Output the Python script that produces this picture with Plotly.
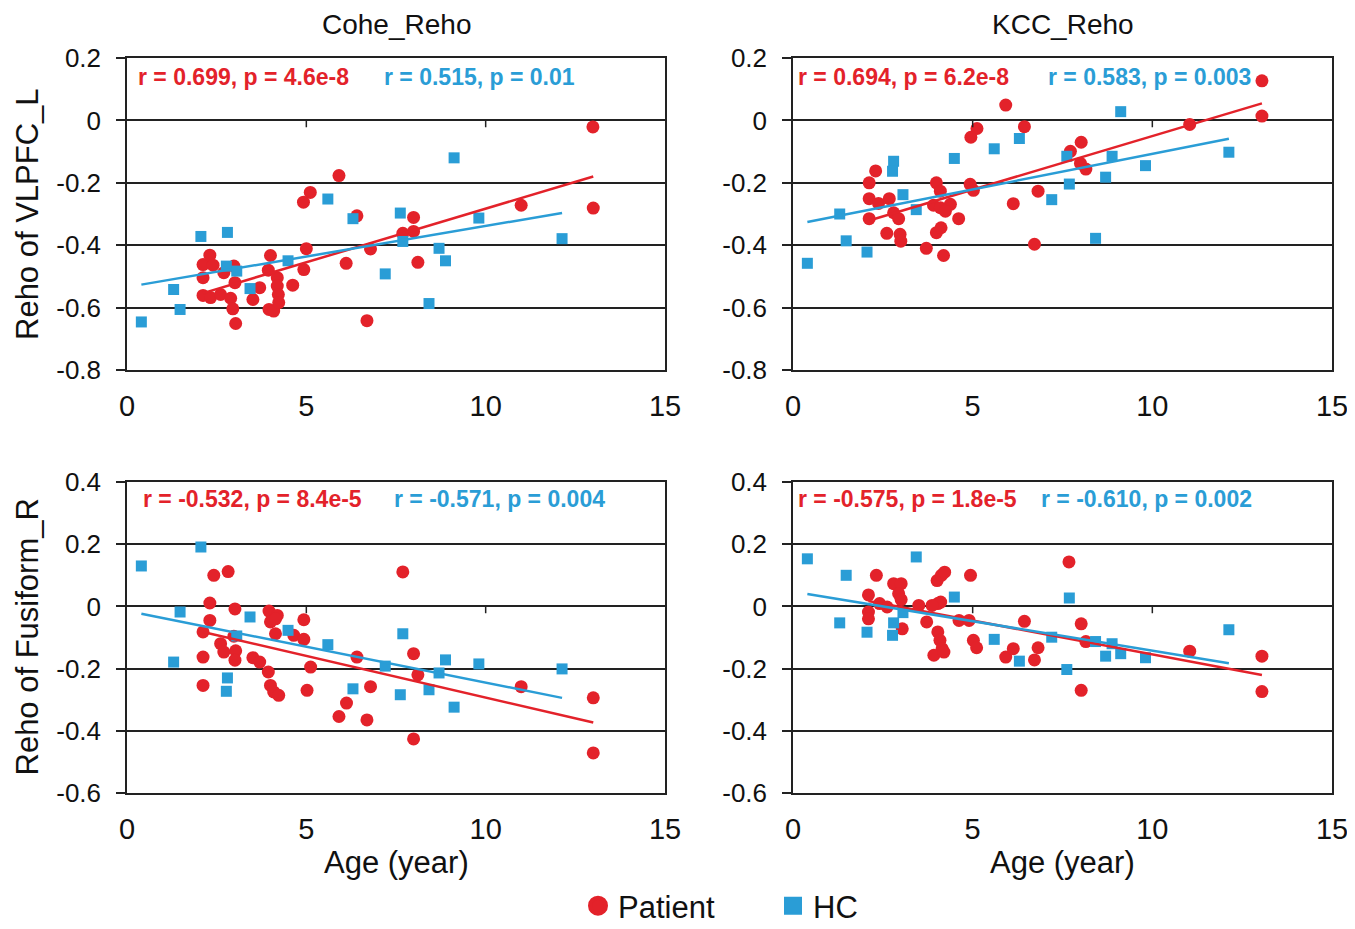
import numpy as np
import plotly.graph_objects as go

RED = '#E3222A'
BLUE = '#2A9DD6'
FONT = 'Liberation Sans, Arial, sans-serif'

panel_titles = ['Cohe_Reho', 'KCC_Reho']
row_titles = ['Reho of VLPFC_L', 'Reho of Fusiform_R']
x_title = 'Age (year)'
x_ticks = [0, 5, 10, 15]
x_tick_text = ['0', '5', '10', '15']
y_ticks_top = [-0.8, -0.6, -0.4, -0.2, 0, 0.2]
y_tick_text_top = ['-0.8', '-0.6', '-0.4', '-0.2', '0', '0.2']
y_ticks_bot = [-0.6, -0.4, -0.2, 0, 0.2, 0.4]
y_tick_text_bot = ['-0.6', '-0.4', '-0.2', '0', '0.2', '0.4']
inner_ticks = [5, 10]

# Healthy controls (ages shared across panels)
hc_age = [0.40, 1.30, 1.48, 2.06, 2.80, 2.77, 3.06, 3.43, 4.49, 5.60,
          6.30, 7.20, 7.62, 7.69, 8.42, 8.70, 8.88, 9.12, 9.81, 12.13]
hc_cohe_vlpfc = [-0.646, -0.542, -0.606, -0.372, -0.359, -0.467, -0.483, -0.539, -0.450, -0.252,
                 -0.315, -0.492, -0.297, -0.388, -0.587, -0.410, -0.450, -0.120, -0.313, -0.379]
hc_kcc_vlpfc = [-0.458, -0.300, -0.386, -0.422, -0.131, -0.163, -0.238, -0.286, -0.122, -0.091,
                -0.058, -0.254, -0.115, -0.204, -0.378, -0.182, -0.115, 0.028, -0.145, -0.102]
hc_cohe_fusi = [0.130, -0.179, -0.018, 0.191, -0.230, -0.273, -0.095, -0.034, -0.077, -0.123,
                -0.265, -0.192, -0.284, -0.088, -0.268, -0.214, -0.172, -0.324, -0.185, -0.201]
hc_kcc_fusi = [0.153, -0.053, 0.100, -0.083, -0.053, -0.093, -0.020, 0.159, 0.030, -0.106,
               -0.176, -0.099, -0.203, 0.027, -0.113, -0.160, -0.120, -0.152, -0.165, -0.075]

# Patients, Cohe_Reho vs VLPFC_L
pat_age_cv = [2.12, 2.31, 2.40, 2.12, 2.70, 2.98, 3.01, 2.12, 2.33, 2.61, 2.89, 2.95, 3.03, 3.51,
              3.70, 4.00, 3.94, 4.19, 4.19, 4.22, 3.96, 4.09, 4.23, 4.62, 4.93, 5.00, 4.92, 5.11,
              5.91, 6.11, 6.41, 6.69, 6.79, 7.69, 7.99, 7.99, 8.11, 10.99, 12.99, 13.00]
pat_cohe_vlpfc = [-0.462, -0.432, -0.464, -0.504, -0.488, -0.467, -0.520, -0.561, -0.568, -0.558,
                  -0.570, -0.604, -0.651, -0.574, -0.536, -0.433, -0.480, -0.504, -0.531, -0.558,
                  -0.606, -0.611, -0.584, -0.528, -0.478, -0.411, -0.262, -0.231, -0.177, -0.458,
                  -0.306, -0.642, -0.412, -0.362, -0.311, -0.356, -0.455, -0.272, -0.021, -0.281]

# Patients, KCC_Reho vs VLPFC_L
pat_age_kv = [2.30, 2.12, 2.12, 2.38, 2.68, 2.12, 2.80, 2.94, 2.61, 2.98, 3.00, 3.71, 4.19, 3.99,
              4.10, 3.91, 4.10, 4.38, 4.24, 3.99, 4.12, 4.61, 4.93, 5.02, 13.05, 13.05, 11.04,
              5.92, 6.44, 5.12, 4.95, 6.13, 6.82, 6.72, 7.72, 8.02, 8.00, 8.15]
pat_kcc_vlpfc = [-0.162, -0.200, -0.251, -0.266, -0.251, -0.315, -0.296, -0.315, -0.362, -0.365,
                 -0.387, -0.410, -0.433, -0.200, -0.227, -0.272, -0.280, -0.269, -0.291, -0.360,
                 -0.344, -0.315, -0.205, -0.224, 0.127, 0.014, -0.013, 0.049, -0.020, -0.026,
                 -0.054, -0.267, -0.227, -0.397, -0.099, -0.070, -0.138, -0.156]

# Patients, Cohe_Reho vs Fusiform_R
pat_age_cf = [2.42, 2.82, 2.31, 3.01, 2.31, 2.12, 2.61, 2.70, 2.98, 3.03, 3.01, 2.12, 2.12, 3.51,
              3.70, 3.94, 3.96, 4.19, 4.00, 4.14, 4.14, 4.65, 4.93, 4.93, 4.00, 4.09, 4.23, 5.12,
              5.02, 7.69, 7.99, 8.11, 7.99, 6.41, 6.79, 6.12, 5.91, 6.69, 10.99, 13.00, 13.00]
pat_cohe_fusi = [0.100, 0.112, 0.011, -0.008, -0.045, -0.082, -0.120, -0.147, -0.096, -0.143,
                 -0.173, -0.163, -0.254, -0.165, -0.179, -0.211, -0.015, -0.029, -0.050, -0.040,
                 -0.088, -0.093, -0.043, -0.106, -0.254, -0.275, -0.286, -0.195, -0.270, 0.111,
                 -0.152, -0.220, -0.426, -0.163, -0.258, -0.311, -0.354, -0.365, -0.258, -0.294, -0.471]

# Patients, KCC_Reho vs Fusiform_R
pat_age_kf = [2.32, 2.10, 2.80, 3.01, 2.94, 3.01, 2.41, 2.10, 2.10, 2.62, 3.04, 3.50, 3.72, 4.01,
              4.13, 4.22, 4.03, 4.11, 3.87, 4.03, 4.09, 4.15, 3.92, 4.20, 4.94, 4.62, 4.90, 5.02,
              5.11, 5.92, 7.68, 8.02, 8.15, 8.02, 6.44, 6.13, 6.82, 6.72, 11.04, 13.05, 13.05]
pat_kcc_fusi = [0.100, 0.037, 0.073, 0.073, 0.041, 0.022, 0.009, -0.018, -0.040, -0.002,
                -0.072, 0.003, -0.050, 0.083, 0.100, 0.110, 0.009, 0.014, 0.003, -0.082,
                -0.109, -0.136, -0.157, -0.147, 0.100, -0.045, -0.045, -0.109, -0.133, -0.163,
                0.143, -0.056, -0.113, -0.270, -0.048, -0.136, -0.133, -0.172, -0.144, -0.160, -0.274]

stats_patient = ['r = 0.699, p = 4.6e-8', 'r = 0.694, p = 6.2e-8',
                 'r = -0.532, p = 8.4e-5', 'r = -0.575, p = 1.8e-5']
stats_hc = ['r = 0.515, p = 0.01', 'r = 0.583, p = 0.003',
            'r = -0.571, p = 0.004', 'r = -0.610, p = 0.002']

# the page body adds an 8px offset; size the figure to fill the visible window
OFF = 8
W, H = 1355 - OFF, 929 - OFF
def px(v):
    return (v - OFF) / W
def py(v):
    return (H - (v - OFF)) / H

x_domains = [[px(127), px(665)], [px(793), px(1332)]]
y_domains = [[py(370), py(58)], [py(793), py(482)]]

panels = [
    dict(px_=pat_age_cv, py_=pat_cohe_vlpfc, hy=hc_cohe_vlpfc, row=0, col=0),
    dict(px_=pat_age_kv, py_=pat_kcc_vlpfc, hy=hc_kcc_vlpfc, row=0, col=1),
    dict(px_=pat_age_cf, py_=pat_cohe_fusi, hy=hc_cohe_fusi, row=1, col=0),
    dict(px_=pat_age_kf, py_=pat_kcc_fusi, hy=hc_kcc_fusi, row=1, col=1),
]

fig = go.Figure()

def fit_line(xs, ys):
    xs = np.asarray(xs, float)
    ys = np.asarray(ys, float)
    k, b = np.polyfit(xs, ys, 1)
    xe = np.array([xs.min(), xs.max()])
    return xe, k * xe + b

for i, p in enumerate(panels):
    n = '' if i == 0 else str(i + 1)
    xa, ya = 'x' + n, 'y' + n
    fig.add_trace(go.Scatter(x=p['px_'], y=p['py_'], mode='markers', xaxis=xa, yaxis=ya,
                             marker=dict(symbol='circle', size=13, color=RED), showlegend=False))
    fig.add_trace(go.Scatter(x=hc_age, y=p['hy'], mode='markers', xaxis=xa, yaxis=ya,
                             marker=dict(symbol='square', size=11, color=BLUE), showlegend=False))
    lx, ly = fit_line(p['px_'], p['py_'])
    fig.add_trace(go.Scatter(x=lx, y=ly, mode='lines', xaxis=xa, yaxis=ya,
                             line=dict(color=RED, width=2.5), showlegend=False))
    hx, hy = fit_line(hc_age, p['hy'])
    fig.add_trace(go.Scatter(x=hx, y=hy, mode='lines', xaxis=xa, yaxis=ya,
                             line=dict(color=BLUE, width=2.5), showlegend=False))

    top = p['row'] == 0
    fig.layout['xaxis' + n] = dict(
        domain=x_domains[p['col']], anchor=ya, range=[0, 15], tickvals=x_ticks, ticktext=x_tick_text,
        showgrid=False, zeroline=False, showline=True, mirror=True, linecolor='#222', linewidth=1.5,
        ticks='', automargin=False,
        tickfont=dict(family=FONT, size=29, color='#111'), ticklabelstandoff=9)
    fig.layout['yaxis' + n] = dict(
        domain=y_domains[p['row']], anchor=xa,
        range=[-0.8, 0.2] if top else [-0.6, 0.4],
        tickvals=y_ticks_top if top else y_ticks_bot,
        ticktext=y_tick_text_top if top else y_tick_text_bot,
        showgrid=True, gridcolor='#222', gridwidth=1.8, zeroline=False,
        showline=True, mirror=True, linecolor='#222', linewidth=1.5,
        ticks='outside', ticklen=9, tickcolor='#222', tickwidth=1.5, automargin=False,
        tickfont=dict(family=FONT, size=26, color='#111'), ticklabelstandoff=10)
    for t in inner_ticks:
        fig.add_shape(type='line', xref=xa, yref=ya, x0=t, x1=t, y0=0, y1=-0.022,
                      line=dict(color='#222', width=1.5))

# stats annotations
red_left = [136, 796, 141, 796]
blue_left = [382, 1046, 392, 1039]
stat_y = [77, 77, 499, 499]
for i in range(4):
    fig.add_annotation(x=px(red_left[i]), y=py(stat_y[i]), xref='paper', yref='paper',
                       xanchor='left', yanchor='middle', showarrow=False, text='<b>%s</b>' % stats_patient[i],
                       font=dict(family=FONT, size=23, color=RED))
    fig.add_annotation(x=px(blue_left[i]), y=py(stat_y[i]), xref='paper', yref='paper',
                       xanchor='left', yanchor='middle', showarrow=False, text='<b>%s</b>' % stats_hc[i],
                       font=dict(family=FONT, size=23, color=BLUE))

# column titles and x titles
for c, t in enumerate(panel_titles):
    xc = (x_domains[c][0] + x_domains[c][1]) / 2
    fig.add_annotation(x=xc, y=py(24), xref='paper', yref='paper', showarrow=False,
                       xanchor='center', yanchor='middle', text=t,
                       font=dict(family=FONT, size=28, color='#111'))
    fig.add_annotation(x=xc, y=py(862), xref='paper', yref='paper', showarrow=False,
                       xanchor='center', yanchor='middle', text=x_title,
                       font=dict(family=FONT, size=31, color='#111'))

# row titles
for r, t in enumerate(row_titles):
    yc = (y_domains[r][0] + y_domains[r][1]) / 2
    fig.add_annotation(x=px(27), y=yc, xref='paper', yref='paper', showarrow=False,
                       xanchor='center', yanchor='middle', textangle=-90, text=t,
                       font=dict(family=FONT, size=31, color='#111'))

# legend entries
fig.add_trace(go.Scatter(x=[None], y=[None], mode='markers', name='Patient',
                         marker=dict(symbol='circle', size=16, color=RED,
                                     line=dict(color=RED, width=4))))
fig.add_trace(go.Scatter(x=[None], y=[None], mode='markers', name='HC',
                         marker=dict(symbol='square', size=16, color=BLUE,
                                     line=dict(color=BLUE, width=2))))

fig.update_layout(
    width=W, height=H, margin=dict(l=0, r=0, t=0, b=0, autoexpand=False),
    paper_bgcolor='white', plot_bgcolor='white',
    font=dict(family=FONT, color='#111'),
    legend=dict(orientation='h', x=px(578), y=py(906), xanchor='left', yanchor='middle',
                font=dict(family=FONT, size=31, color='#111'), itemsizing='trace',
                entrywidth=150, entrywidthmode='pixels', bgcolor='rgba(0,0,0,0)'),
)

fig.write_html('out.html')
